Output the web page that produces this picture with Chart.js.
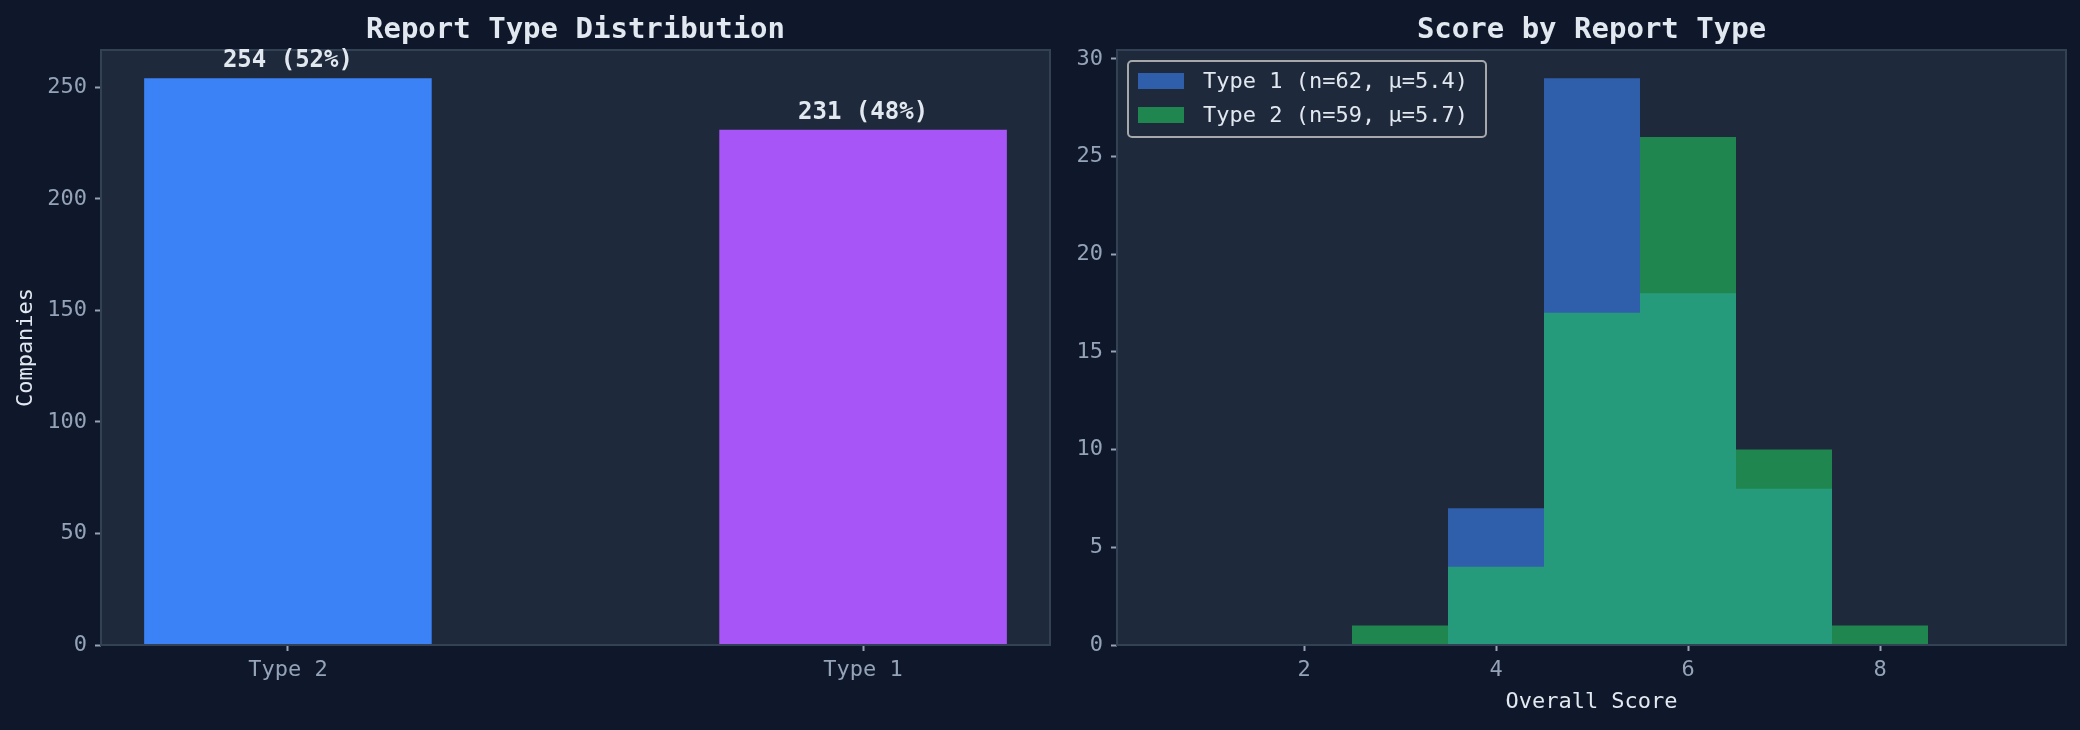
<!DOCTYPE html>
<html><head><meta charset="utf-8">
<script src="https://cdn.jsdelivr.net/npm/chart.js@4.4.1/dist/chart.umd.min.js"></script>
<style>
html,body{margin:0;padding:0;background:#0f172a;width:2080px;height:730px;overflow:hidden}
canvas{position:absolute;top:0}
#c1{left:0}
#c2{left:1060px}
</style></head><body>
<canvas id="c1" width="1060" height="730"></canvas>
<canvas id="c2" width="1020" height="730"></canvas>
<script>
// ---- data ----
const typeCategories = ['Type 2', 'Type 1'];
const typeCounts = [254, 231];
const typeColors = ['#3b82f6', '#a855f7'];
const countTicks = [0, 50, 100, 150, 200, 250];

const scoreBins = [1, 2, 3, 4, 5, 6, 7, 8, 9];
const type1Hist = [0, 0, 0, 7, 29, 18, 8, 0, 0];
const type2Hist = [0, 0, 1, 4, 17, 26, 10, 1, 0];
const scoreTicks = [2, 4, 6, 8];
const freqTicks = [0, 5, 10, 15, 20, 25, 30];
const seriesLabels = ['Type 1 (n=62, μ=5.4)', 'Type 2 (n=59, μ=5.7)'];
const seriesColors = ['rgba(59,130,246,0.6)', 'rgba(34,197,94,0.6)'];

// ---- style ----
const FONT = "'DejaVu Sans Mono', monospace";
Chart.defaults.font.family = FONT;
const TICK = '#94a3b8', LIGHT = '#e2e8f0', AXBG = '#1e293b', SPINE = '#334155';

function framePlugin(title) {
  return {
    id: 'frame',
    beforeDraw(chart) {
      const {ctx, chartArea: a} = chart;
      ctx.save();
      ctx.fillStyle = AXBG;
      ctx.fillRect(a.left, a.top, a.right - a.left, a.bottom - a.top);
      ctx.restore();
    },
    afterDatasetsDraw(chart) {
      const {ctx, chartArea: a} = chart;
      ctx.save();
      ctx.strokeStyle = SPINE;
      ctx.lineWidth = 2;
      ctx.strokeRect(a.left, a.top, a.right - a.left, a.bottom - a.top);
      ctx.restore();
    },
    afterDraw(chart) {
      const {ctx, chartArea: a} = chart;
      ctx.save();
      ctx.fillStyle = LIGHT;
      ctx.font = 'bold 29px ' + FONT;
      ctx.textAlign = 'center';
      ctx.textBaseline = 'alphabetic';
      ctx.fillText(title, (a.left + a.right) / 2, 38);
      ctx.restore();
    }
  };
}

const tickGrid = {display: true, offset: false, drawOnChartArea: false, drawTicks: true, tickLength: 6, tickColor: TICK, tickWidth: 2};

// ---- left chart: bar counts ----
const total = typeCounts.reduce((s, v) => s + v, 0);
const barLabelPlugin = {
  id: 'barLabels',
  afterDatasetsDraw(chart) {
    const {ctx} = chart;
    const meta = chart.getDatasetMeta(0);
    ctx.save();
    ctx.fillStyle = LIGHT;
    ctx.font = 'bold 24px ' + FONT;
    ctx.textAlign = 'center';
    ctx.textBaseline = 'alphabetic';
    meta.data.forEach((el, i) => {
      const v = typeCounts[i];
      ctx.fillText(v + ' (' + Math.round(v / total * 100) + '%)', el.x, el.y - 11);
    });
    ctx.restore();
  }
};

new Chart(document.getElementById('c1'), {
  type: 'bar',
  data: {
    datasets: [{
      data: typeCounts.map((v, i) => ({x: i, y: v})),
      backgroundColor: typeColors,
      borderWidth: 0,
      inflateAmount: 0,
      barPercentage: 0.5,
      categoryPercentage: 1
    }]
  },
  options: {
    responsive: false, animation: false, devicePixelRatio: 1,
    layout: {padding: {top: 50, right: 10, left: 0, bottom: 0}},
    plugins: {legend: {display: false}, tooltip: {enabled: false}, title: {display: false}},
    scales: {
      x: {
        type: 'linear', min: -0.325, max: 1.325, offset: false,
        afterBuildTicks: s => { s.ticks = typeCategories.map((c, i) => ({value: i})); },
        afterFit: s => { s.height = 85; },
        ticks: {color: TICK, font: {size: 22}, padding: 6, callback: v => typeCategories[v]},
        grid: tickGrid, border: {display: false}
      },
      y: {
        min: 0, max: 266.7,
        afterBuildTicks: s => { s.ticks = countTicks.map(v => ({value: v})); },
        afterFit: s => { s.width = 101; },
        ticks: {color: TICK, font: {size: 22}, padding: 8},
        grid: tickGrid, border: {display: false},
        title: {display: true, text: 'Companies', color: LIGHT, font: {size: 22}, padding: {top: 13, bottom: 0}}
      }
    }
  },
  plugins: [framePlugin('Report Type Distribution'), barLabelPlugin]
});

// ---- right chart: histogram ----
const legendPlugin = {
  id: 'histLegend',
  afterDraw(chart) {
    const {ctx} = chart;
    ctx.save();
    const bx = 68, by = 61, bw = 358, bh = 76;
    ctx.beginPath();
    ctx.roundRect(bx, by, bw, bh, 4);
    ctx.fillStyle = AXBG;
    ctx.fill();
    ctx.strokeStyle = 'rgba(200,200,200,0.8)';
    ctx.lineWidth = 2;
    ctx.stroke();
    ctx.font = '22px ' + FONT;
    ctx.textBaseline = 'middle';
    ctx.textAlign = 'left';
    seriesLabels.forEach((t, i) => {
      const cy = 81 + i * 34;
      ctx.fillStyle = seriesColors[i];
      ctx.fillRect(78, cy - 8, 46, 16);
      ctx.fillStyle = LIGHT;
      ctx.fillText(t, 143, cy + 1);
    });
    ctx.restore();
  }
};

// x range chosen so bin edges land on whole pixels (96 px per score unit)
const scoreMin = 0.5 - 43 / 96;
const scoreMax = scoreMin + 949 / 96;

new Chart(document.getElementById('c2'), {
  type: 'bar',
  data: {
    datasets: [
      {label: seriesLabels[0], data: scoreBins.map((b, i) => ({x: b, y: type1Hist[i]})),
       backgroundColor: seriesColors[0], borderWidth: 0, inflateAmount: 0, order: 1,
       barPercentage: 1, categoryPercentage: 1, grouped: false},
      {label: seriesLabels[1], data: scoreBins.map((b, i) => ({x: b, y: type2Hist[i]})),
       backgroundColor: seriesColors[1], borderWidth: 0, inflateAmount: 0, order: 0,
       barPercentage: 1, categoryPercentage: 1, grouped: false}
    ]
  },
  options: {
    responsive: false, animation: false, devicePixelRatio: 1,
    layout: {padding: {top: 50, right: 14, left: 0, bottom: 0}},
    plugins: {legend: {display: false}, tooltip: {enabled: false}, title: {display: false}},
    scales: {
      x: {
        type: 'linear', min: scoreMin, max: scoreMax, offset: false,
        afterBuildTicks: s => { s.ticks = scoreTicks.map(v => ({value: v})); },
        afterFit: s => { s.height = 85; },
        ticks: {color: TICK, font: {size: 22}, padding: 6, callback: v => String(v)},
        grid: tickGrid, border: {display: false},
        title: {display: true, text: 'Overall Score', color: LIGHT, font: {size: 22}, padding: {top: 0, bottom: 15}}
      },
      y: {
        min: 0, max: 30.45,
        afterBuildTicks: s => { s.ticks = freqTicks.map(v => ({value: v})); },
        afterFit: s => { s.width = 57; },
        ticks: {color: TICK, font: {size: 22}, padding: 8},
        grid: tickGrid, border: {display: false}
      }
    }
  },
  plugins: [framePlugin('Score by Report Type'), legendPlugin]
});
</script>
</body></html>
